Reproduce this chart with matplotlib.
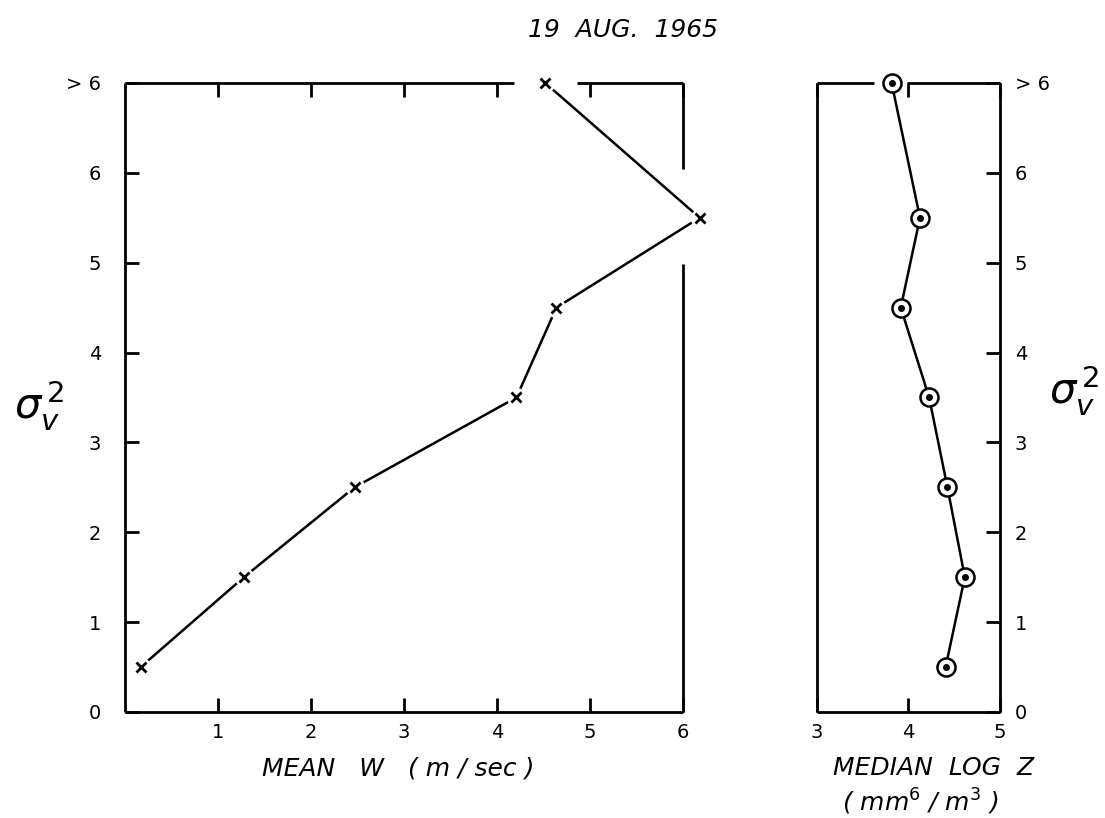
import matplotlib
matplotlib.use('Agg')
import matplotlib.pyplot as plt


# Data
sigma_v2 = [0.5, 1.5, 2.5, 3.5, 4.5, 5.5, 7.0]   # 7.0 stands for "> 6"
mean_w = [0.17, 1.28, 2.47, 4.21, 4.64, 6.18, 4.52]
median_log_z = [4.41, 4.62, 4.43, 4.23, 3.92, 4.13, 3.82]

y_ticks = [0, 1, 2, 3, 4, 5, 6, 7]
y_labels = ['0', '1', '2', '3', '4', '5', '6', '> 6']
w_ticks = [1, 2, 3, 4, 5, 6]
z_ticks = [3, 4, 5]

LW = 2.0
TICK_FS = 14
LABEL_FS = 18


def frame(ax, x0, x1, y0, y1, top_gap=None, right_gap=None):
    # Hand drawn look: frame made of segments with gaps around data points
    for s in ax.spines.values():
        s.set_visible(False)
    kw = dict(color='black', lw=LW, clip_on=False, solid_capstyle='butt')
    ax.plot([x0, x0], [y0, y1], **kw)
    ax.plot([x0, x1], [y0, y0], **kw)
    if top_gap:
        ax.plot([x0, top_gap[0]], [y1, y1], **kw)
        ax.plot([top_gap[1], x1], [y1, y1], **kw)
    else:
        ax.plot([x0, x1], [y1, y1], **kw)
    if right_gap:
        ax.plot([x1, x1], [y0, right_gap[0]], **kw)
        ax.plot([x1, x1], [right_gap[1], y1], **kw)
    else:
        ax.plot([x1, x1], [y0, y1], **kw)


fig = plt.figure(figsize=(11.05, 8.18), dpi=100)

# Left panel: mean W
ax1 = fig.add_axes([0.113, 0.1296, 0.505, 0.769])
ax1.set_xlim(0, 6)
ax1.set_ylim(0, 7)
frame(ax1, 0, 6, 0, 7, top_gap=(4.18, 4.86), right_gap=(4.98, 6.04))
ax1.plot(mean_w, sigma_v2, color='black', lw=1.8, clip_on=False, zorder=2)
ax1.plot(mean_w, sigma_v2, ls='none', marker='o', ms=14, mfc='white', mec='none',
         clip_on=False, zorder=3)
ax1.plot(mean_w, sigma_v2, ls='none', marker='x', ms=7, mew=2.0, color='black',
         clip_on=False, zorder=4)
ax1.set_xticks(w_ticks)
ax1.set_xticklabels([str(t) for t in w_ticks])
ax1.set_yticks(y_ticks)
ax1.set_yticklabels(y_labels)
ax1.tick_params(axis='x', direction='in', length=10, width=LW, top=True,
                labelsize=TICK_FS, pad=8)
ax1.tick_params(axis='y', direction='in', length=10, width=LW,
                labelsize=TICK_FS, pad=17)
ax1.set_facecolor('none')

# Right panel: median log Z
ax2 = fig.add_axes([0.739, 0.1296, 0.1656, 0.769])
ax2.set_xlim(3, 5)
ax2.set_ylim(0, 7)
frame(ax2, 3, 5, 0, 7, top_gap=(3.63, 3.99))
ax2.plot(median_log_z, sigma_v2, color='black', lw=1.8, clip_on=False, zorder=2)
ax2.plot(median_log_z, sigma_v2, ls='none', marker='o', ms=13, mfc='white', mec='black',
         mew=1.8, clip_on=False, zorder=3)
ax2.plot(median_log_z, sigma_v2, ls='none', marker='o', ms=4, color='black',
         clip_on=False, zorder=4)
ax2.set_xticks(z_ticks)
ax2.set_xticklabels([str(t) for t in z_ticks])
ax2.set_yticks(y_ticks)
ax2.set_yticklabels(y_labels)
ax2.yaxis.tick_right()
ax2.tick_params(axis='x', direction='in', length=10, width=LW, top=True,
                labelsize=TICK_FS, pad=8)
ax2.tick_params(axis='y', direction='in', length=10, width=LW, left=False, right=True,
                labelsize=TICK_FS, pad=11)
ax2.set_facecolor('none')

# Labels
fig.text(0.564, 0.963, '19  AUG.  1965', ha='center', va='center', fontsize=LABEL_FS,
         style='italic')
fig.text(0.360, 0.061, 'MEAN   W   ( m / sec )', ha='center', va='center',
         fontsize=LABEL_FS, style='italic')
fig.text(0.845, 0.061, 'MEDIAN  LOG  Z', ha='center', va='center', fontsize=LABEL_FS,
         style='italic')
fig.text(0.833, 0.020, '( mm$^{6}$ / m$^{3}$ )', ha='center', va='center',
         fontsize=LABEL_FS, style='italic')
fig.text(0.036, 0.505, r'$\sigma_v^{\,2}$', ha='center', va='center', fontsize=30)
fig.text(0.972, 0.523, r'$\sigma_v^{\,2}$', ha='center', va='center', fontsize=30)

fig.savefig('out.png', dpi=100)
